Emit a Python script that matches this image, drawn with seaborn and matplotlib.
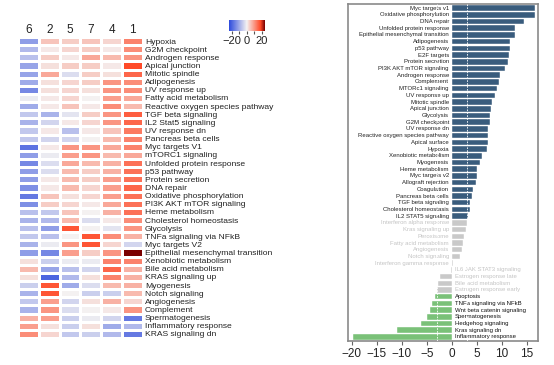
import matplotlib
matplotlib.use("Agg")
import matplotlib.pyplot as plt
from matplotlib.colors import LinearSegmentedColormap
import numpy as np
import pandas as pd
import seaborn as sns

# ---- left panel: heatmap of pathway scores per cluster ----
clusters = ["6", "2", "5", "7", "4", "1"]
pathways = [
    "Hypoxia", "G2M checkpoint", "Androgen response", "Apical junction",
    "Mitotic spindle", "Adipogenesis", "UV response up", "Fatty acid metabolism",
    "Reactive oxygen species pathway", "TGF beta signaling", "IL2 Stat5 signaling",
    "UV response dn", "Pancreas beta cells", "Myc targets V1", "mTORC1 signaling",
    "Unfolded protein response", "p53 pathway", "Protein secretion", "DNA repair",
    "Oxidative phosphorylation", "PI3K AKT mTOR signaling", "Heme metabolism",
    "Cholesterol homeostasis", "Glycolysis", "TNFa signaling via NFkB",
    "Myc targets V2", "Epithelial mesenchymal transition", "Xenobiotic metabolism",
    "Bile acid metabolism", "KRAS signaling up", "Myogenesis", "Notch signaling",
    "Angiogenesis", "Complement", "Spermatogenesis", "Inflammatory response",
    "KRAS signaling dn",
]
scores = [
    [-12, 5, 4, 5, 3, 12],
    [-8, 1, 3, 4, 1, 11],
    [-7, 4, 1, 8, 6, 10],
    [-11, 2, 4, 4, 1, 18],
    [-11, 8, -3, 4, 2, 15],
    [-10, 2, 3, 4, 10, 11],
    [-15, 2, 3, 2, 10, 11],
    [-1, 1, 3, 0, 9, 8],
    [-10, 1, 5, 1, 11, 6],
    [-6, -9, -2, 4, 10, 16],
    [-9, -4, 1, 3, 10, 15],
    [-6, 1, -7, 1, 5, 13],
    [-6, -4, -4, 0, 6, 12],
    [-18, 1, 10, 10, 8, 12],
    [-12, -1, 9, 10, 6, 8],
    [-15, -3, 8, 6, 7, 14],
    [-12, -3, 6, 4, 7, 14],
    [-12, 1, 6, 4, 9, 14],
    [-14, 1, 6, 3, 9, 15],
    [-17, 5, 2, 3, 9, 14],
    [-14, 4, 3, 1, 8, 14],
    [-7, -6, 5, 0, 7, 14],
    [-9, -8, 6, -3, 1, 11],
    [-7, -12, 17, 0, -2, 10],
    [-6, -7, 0, 17, 11, 7],
    [-9, -1, 10, 17, 3, -4],
    [-12, -15, 9, 4, 10, 24],
    [2, -5, -1, -1, 12, 12],
    [6, -11, -7, -4, 15, 7],
    [2, -20, -8, 2, 12, 7],
    [-5, 17, -10, -3, 6, 7],
    [-9, 17, 0, -5, -5, 6],
    [-6, 9, -4, 2, 7, 3],
    [-9, 10, -3, 0, 1, 10],
    [7, 9, -5, -1, -4, -17],
    [9, 2, -5, 2, -10, -8],
    [11, 3, -6, -5, -8, -17],
]

# ---- right panel: ranked enrichment scores ----
bar_names = [
    "Myc targets v1", "Oxidative phosphorylation", "DNA repair",
    "Unfolded protein response", "Epithelial mesenchymal transition",
    "Adipogenesis", "p53 pathway", "E2F targets", "Protein secretion",
    "PI3K AKT mTOR signaling", "Androgen response", "Complement",
    "MTORc1 signaling", "UV response up", "Mitotic spindle", "Apical junction",
    "Glycolysis", "G2M checkpoint", "UV response dn",
    "Reactive oxygen species pathway", "Apical surface", "Hypoxia",
    "Xenobiotic metabolism", "Myogenesis", "Heme metabolism", "Myc targets v2",
    "Allograft rejection", "Coagulation", "Pancreas beta cells",
    "TGF beta signaling", "Cholesterol homeostasis", "IL2 STAT5 signaling",
    "Interferon alpha response", "Kras signaling up", "Peroxisome",
    "Fatty acid metabolism", "Angiogenesis", "Notch signaling",
    "Interferon gamma response", "IL6 JAK STAT3 signaling",
    "Estrogen response late", "Bile acid metabolism", "Estrogen response early",
    "Apoptosis", "TNFa signaling via NFkB", "Wnt beta catenin signaling",
    "Spermatogenesis", "Hedgehog signaling", "Kras signaling dn",
    "Inflammatory response",
]
bar_values = [
    16.7, 16.6, 14.4, 12.7, 12.7, 11.7, 11.7, 11.5, 11.3, 10.7, 9.7, 9.5,
    9.1, 8.7, 8.0, 7.9, 7.7, 7.6, 7.3, 7.3, 7.2, 7.1, 6.1, 5.6, 5.1, 5.0,
    4.9, 4.3, 4.0, 3.7, 3.7, 3.3,
    3.0, 2.8, 2.5, 2.3, 2.0, 1.6, 0.15, -0.1, -2.4, -2.7, -2.9,
    -3.4, -3.9, -4.3, -4.9, -6.1, -10.9, -19.7,
]
threshold = 3.0

plt.rcParams["font.family"] = ["Liberation Sans", "DejaVu Sans"]

fig = plt.figure(figsize=(5.54, 3.65), dpi=100)

# heatmap
cmap = LinearSegmentedColormap.from_list(
    "bwr_dark", [(0, "#2a48dc"), (0.5, "#f4f2f2"), (0.88, "#ff4a28"), (1, "#7a0000")])
hm = pd.DataFrame(scores, index=pathways, columns=clusters)
ax1 = fig.add_axes([0.0325, 0.074, 0.2256, 0.8247])
cax = fig.add_axes([0.413, 0.915, 0.065, 0.030])
sns.heatmap(hm, ax=ax1, cmap=cmap, vmin=-24, vmax=24, linewidths=1.0,
            linecolor="white", cbar_ax=cax, xticklabels=True, yticklabels=True,
            cbar_kws={"orientation": "horizontal", "ticks": [-20, -10, 0, 10, 20]})
ax1.xaxis.tick_top()
ax1.yaxis.tick_right()
ax1.tick_params(axis="x", length=0, pad=1)
ax1.tick_params(axis="y", length=0, pad=1.5)
ax1.set_xticklabels(clusters, fontsize=8.5, color="#222222")
ax1.set_yticklabels(pathways, rotation=0, fontsize=6.1, color="#222222")
ax1.set_xlabel("")
ax1.set_ylabel("")

cax.set_xticklabels(["\u221220", "", "0", "", "20"], fontsize=8, color="#222222")
cax.tick_params(axis="x", length=2.5, width=0.8, color="#555555", pad=1)
cax.xaxis.set_ticks_position("bottom")
for s in cax.spines.values():
    s.set_visible(False)

# ranked bars
ax2 = fig.add_axes([0.628, 0.0658, 0.343, 0.923])
groups = ["up" if v > threshold else ("down" if v < -threshold else "ns") for v in bar_values]
bars = pd.DataFrame({"name": bar_names, "value": bar_values, "group": groups})
palette = {"up": "#2e5c88", "ns": "#c9c9c9", "down": "#6fcd6c"}
sns.barplot(data=bars, x="value", y="name", hue="group", palette=palette,
            order=bar_names, dodge=False, width=0.82, legend=False,
            edgecolor="white", linewidth=0.3, ax=ax2)
for thr in (-threshold, threshold):
    ax2.axvline(thr, color="white", lw=0.6, ls=(0, (2, 1.5)), zorder=5)

label_colors = {"up": "#222222", "ns": "#c4c4c4", "down": "#111111"}
for i, (n, v, g) in enumerate(zip(bar_names, bar_values, groups)):
    if v >= 0:
        ax2.text(-0.6, i, n, ha="right", va="center", fontsize=4.3, color=label_colors[g])
    else:
        ax2.text(0.6, i, n, ha="left", va="center", fontsize=4.3, color=label_colors[g])

ax2.set_xlim(-20.8, 17.2)
ax2.set_ylim(len(bar_names) - 0.4, -0.6)
ax2.set_yticks([])
ax2.set_xticks([-20, -15, -10, -5, 0, 5, 10, 15])
ax2.set_xticklabels(["\u221220", "\u221215", "\u221210", "\u22125", "0", "5", "10", "15"])
ax2.tick_params(axis="x", labelsize=8.5, length=3, width=0.8, color="#666666",
                labelcolor="#222222", pad=2)
ax2.set_xlabel("")
ax2.set_ylabel("")
for s in ax2.spines.values():
    s.set_color("#8a8a8a")
    s.set_linewidth(1.2)

fig.savefig("out.png", dpi=100)
